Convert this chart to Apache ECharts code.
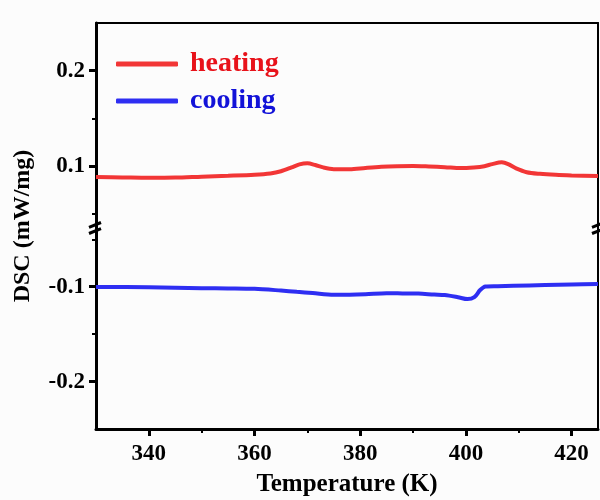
<!DOCTYPE html>
<html>
<head>
<meta charset="utf-8">
<script src="https://cdn.jsdelivr.net/npm/echarts@6/dist/echarts.min.js"></script>
<style>
  html, body { margin: 0; padding: 0; background: #fcfcfc; }
  #main { width: 600px; height: 500px; }
</style>
</head>
<body>
<div id="main"></div>
<script>
// DSC curves, broken y axis (upper part: heating, lower part: cooling)
var heatT = [330, 335, 340, 345, 350, 355, 360, 363, 365, 367, 368.5, 370, 371.5, 373, 375, 378, 381, 384, 387, 390, 393, 396, 399, 401.5, 403.5, 405, 406.8, 408, 409.5, 411.5, 414, 417, 420, 425];
var heatDSC = [0.0884, 0.0880, 0.0876, 0.0878, 0.0888, 0.0897, 0.0908, 0.0922, 0.0945, 0.0985, 0.1017, 0.1028, 0.1010, 0.0985, 0.0967, 0.0966, 0.0980, 0.0992, 0.0998, 0.1000, 0.0995, 0.0988, 0.0978, 0.0985, 0.0998, 0.1020, 0.1038, 0.1020, 0.0975, 0.0935, 0.0918, 0.0907, 0.0901, 0.0895];

var coolT = [330, 340, 350, 355, 360, 365, 368, 371, 375, 378, 381, 385, 388, 391, 394, 396, 398.5, 400.3, 401.6, 402.7, 403.7, 406, 409, 415, 420, 425];
var coolDSC = [-0.1003, -0.1005, -0.1016, -0.1018, -0.1022, -0.1040, -0.1053, -0.1066, -0.1084, -0.1084, -0.1080, -0.1068, -0.1070, -0.1072, -0.1082, -0.1087, -0.1110, -0.1130, -0.1110, -0.1035, -0.0998, -0.0994, -0.0990, -0.0982, -0.0977, -0.0972];

var xMajor = [340, 360, 380, 400, 420];
var xMinor = [350, 370, 390, 410];
var yUpMajor = [0.1, 0.2];
var yUpMinor = [0.05, 0.15];
var yLowMajor = [-0.1, -0.2];
var yLowMinor = [-0.05, -0.15];

var FONT = '"Times New Roman", "Liberation Serif", serif';
var RED = '#f23636';
var BLUE = '#2e2ef2';

function pairs(xs, ys) {
    return xs.map(function (x, i) { return [x, ys[i]]; });
}

var myChart = echarts.init(document.getElementById('main'));

function yAx(grid, min, max, major, minor) {
    return [
        {
            type: 'value', gridIndex: grid, position: 'left', min: min, max: max,
            axisLine: { show: true, lineStyle: { color: '#000', width: 3 } },
            axisTick: { show: true, customValues: major, length: 7, lineStyle: { color: '#000', width: 3 } },
            axisLabel: { show: true, customValues: major, margin: 11, color: '#000', fontFamily: FONT, fontWeight: 'bold', fontSize: 23 },
            splitLine: { show: false }
        },
        {
            type: 'value', gridIndex: grid, position: 'left', min: min, max: max,
            axisLine: { show: false },
            axisTick: { show: true, customValues: minor, length: 4, lineStyle: { color: '#000', width: 2 } },
            axisLabel: { show: false },
            splitLine: { show: false }
        },
        {
            type: 'value', gridIndex: grid, position: 'right', min: min, max: max,
            axisLine: { show: true, lineStyle: { color: '#000', width: 2 } },
            axisTick: { show: false },
            axisLabel: { show: false },
            splitLine: { show: false }
        }
    ];
}

function breakMark(cx, cy) {
    return {
        type: 'group', x: cx, y: cy, z: 100,
        children: [
            { type: 'polygon', shape: { points: [[-6, 0.5], [6, -4.3], [6, 0.5], [-6, 5.3]] }, style: { fill: '#fcfcfc' } },
            { type: 'line', shape: { x1: -6, y1: -0.7, x2: 6, y2: -5.5 }, style: { stroke: '#000', lineWidth: 3 } },
            { type: 'line', shape: { x1: -6, y1: 5.5, x2: 6, y2: 0.7 }, style: { stroke: '#000', lineWidth: 3 } }
        ]
    };
}

var option = {
    backgroundColor: '#fcfcfc',
    animation: false,
    grid: [
        { left: 96, right: 2, top: 23, height: 204 },
        { left: 96, right: 2, top: 227, height: 202 }
    ],
    legend: {
        orient: 'vertical',
        left: 116,
        top: 50,
        padding: 0,
        itemGap: 9,
        itemWidth: 62,
        itemHeight: 5,
        icon: 'roundRect',
        textStyle: { fontFamily: FONT, fontWeight: 'bold', fontSize: 28, padding: [0, 0, 0, 7] },
        data: [
            { name: 'heating', textStyle: { color: '#e8121a' } },
            { name: 'cooling', textStyle: { color: '#1212d8' } }
        ]
    },
    xAxis: [
        {
            type: 'value', gridIndex: 0, position: 'top', min: 330, max: 425,
            axisLine: { show: true, lineStyle: { color: '#000', width: 2 } },
            axisTick: { show: false }, axisLabel: { show: false }, splitLine: { show: false }
        },
        {
            type: 'value', gridIndex: 1, position: 'bottom', min: 330, max: 425,
            name: 'Temperature (K)', nameLocation: 'middle', nameGap: 43,
            nameTextStyle: { color: '#000', fontFamily: FONT, fontWeight: 'bold', fontSize: 25 },
            axisLine: { show: true, lineStyle: { color: '#000', width: 3 } },
            axisTick: { show: true, customValues: xMajor, length: 7, lineStyle: { color: '#000', width: 3 } },
            axisLabel: { show: true, customValues: xMajor, margin: 14, color: '#000', fontFamily: FONT, fontWeight: 'bold', fontSize: 23 },
            splitLine: { show: false }
        },
        {
            type: 'value', gridIndex: 1, position: 'bottom', min: 330, max: 425,
            axisLine: { show: false },
            axisTick: { show: true, customValues: xMinor, length: 4, lineStyle: { color: '#000', width: 2 } },
            axisLabel: { show: false }, splitLine: { show: false }
        }
    ],
    yAxis: [].concat(
        yAx(0, 0.036, 0.25, yUpMajor, yUpMinor),
        yAx(1, -0.25, -0.037, yLowMajor, yLowMinor)
    ),
    series: [
        {
            name: 'heating', type: 'line', xAxisIndex: 0, yAxisIndex: 0,
            data: pairs(heatT, heatDSC), smooth: 0.3, showSymbol: false,
            itemStyle: { color: RED }, lineStyle: { color: RED, width: 4 }
        },
        {
            name: 'cooling', type: 'line', xAxisIndex: 1, yAxisIndex: 3,
            data: pairs(coolT, coolDSC), smooth: 0.3, showSymbol: false,
            itemStyle: { color: BLUE }, lineStyle: { color: BLUE, width: 4 }
        }
    ],
    graphic: [
        {
            type: 'text', x: 23, y: 226, rotation: Math.PI / 2, z: 100,
            style: {
                text: 'DSC (mW/mg)', fill: '#000', font: 'bold 24px ' + FONT,
                textAlign: 'center', textVerticalAlign: 'middle'
            }
        },
        breakMark(95, 228),
        breakMark(598, 228)
    ]
};

myChart.setOption(option);
</script>
</body>
</html>
